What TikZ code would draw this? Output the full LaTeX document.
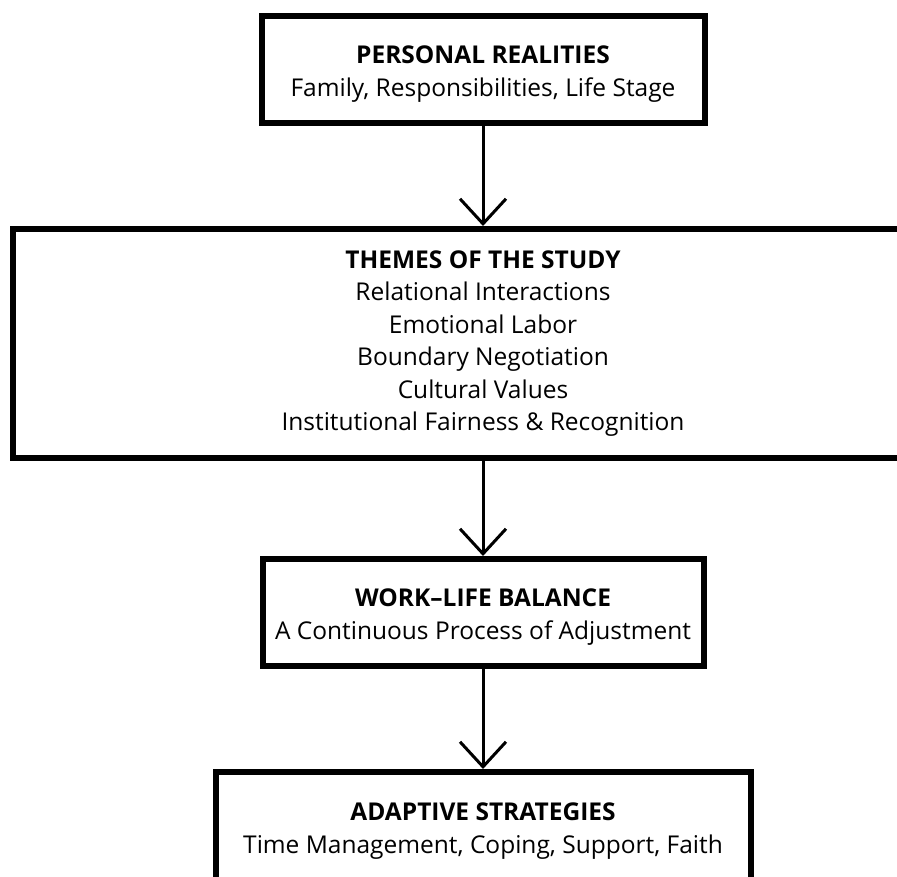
\documentclass[tikz,border=0pt]{standalone}
\usepackage{fontspec}
\setmainfont{Open Sans}
\usetikzlibrary{arrows.meta,calc}

\begin{document}
\begin{tikzpicture}[x=1pt, y=-1pt, auto, >={Straight Barb[length=25pt,width=46pt,line width=3pt]},
    box/.style={draw, rectangle, line width=6pt, align=center, inner sep=0pt,
                font=\fontsize{24.5}{32.5}\selectfont},
    flow/.style={->, line width=3pt}]

\useasboundingbox (0, 0) rectangle (897, 876);
\clip (0, 0) rectangle (897, 876);

\node[box, minimum width=443, minimum height=107, text height=59pt] at (483, 69.5) (personal)
    {\textbf{PERSONAL REALITIES}\\Family, Responsibilities, Life Stage};
\node[box, minimum width=940, minimum height=229] at (483, 343.5) (themes)
    {\textbf{THEMES OF THE STUDY}\\Relational Interactions\\Emotional Labor\\Boundary Negotiation\\Cultural Values\\Institutional Fairness \& Recognition};
\node[box, minimum width=441, minimum height=107, text height=59pt] at (483, 612.5) (balance)
    {\textbf{WORK–LIFE BALANCE}\\A Continuous Process of Adjustment};
\node[box, minimum width=535, minimum height=118] at (483, 831) (adaptive)
    {\textbf{ADAPTIVE STRATEGIES}\\Time Management, Coping, Support, Faith};

    \draw [flow] (personal) -- (themes);
    \draw [flow] (themes) -- (balance);
    \draw [flow] (balance) -- (adaptive);
\end{tikzpicture}
\end{document}
